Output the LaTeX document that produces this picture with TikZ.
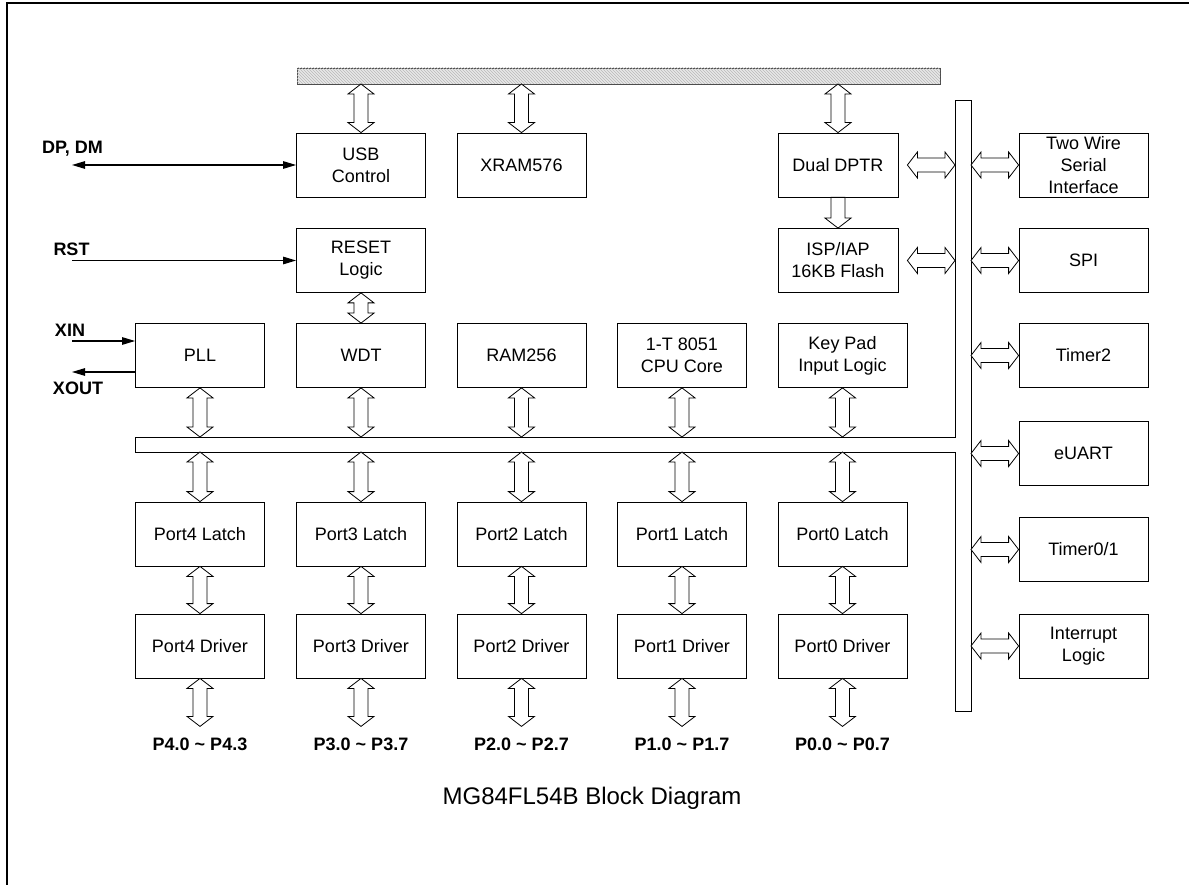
\documentclass[tikz,border=0pt]{standalone}
\usepackage{fontspec}
\setmainfont{Liberation Sans}
\usetikzlibrary{calc,arrows.meta,patterns}
\tikzset{
    >={Triangle[length=13pt,width=7.5pt]},
    block/.style={
        draw, line width=0.8pt, minimum width=129, minimum height=64,
        inner sep=0pt, align=center, font=\fontsize{18}{22}\selectfont
    },
    signal/.style={inner sep=0pt, font=\fontsize{18}{22}\selectfont\bfseries},
    wire/.style={line width=1.2pt},
    bus/.style={line width=0.8pt},
    vdbl/.style={
        bus, fill=white,
        to path={
            let \p1=(\tikztostart), \p2=(\tikztotarget) in
            (\x1,\y1) -- ++(13pt,-10pt) -- ++(-6pt,0pt) -- (\x1+7pt,\y2+10pt)
            -- ++(6pt,0pt) -- (\x1,\y2) -- ++(-13pt,10pt) -- ++(6pt,0pt)
            -- (\x1-7pt,\y1-10pt) -- ++(-6pt,0pt) -- cycle
        }
    },
    vone/.style={
        bus, fill=white,
        to path={
            let \p1=(\tikztostart), \p2=(\tikztotarget) in
            (\x1-7pt,\y1) -- (\x1+7pt,\y1) -- (\x1+7pt,\y2+10pt) -- ++(6pt,0pt)
            -- (\x1,\y2) -- ++(-13pt,10pt) -- ++(6pt,0pt) -- cycle
        }
    },
    hdbl/.style={
        bus, fill=white,
        to path={
            let \p1=(\tikztostart), \p2=(\tikztotarget) in
            (\x1,\y1) -- ++(10pt,13pt) -- ++(0pt,-6pt) -- (\x2-10pt,\y1+7pt)
            -- ++(0pt,6pt) -- (\x2,\y1) -- ++(-10pt,-13pt) -- ++(0pt,6pt)
            -- (\x1+10pt,\y1-7pt) -- ++(0pt,-6pt) -- cycle
        }
    }
}
\begin{document}
\begin{tikzpicture}[x=1pt, y=-1pt]
    \useasboundingbox (0,0) rectangle (1189,885);
    \draw[line width=2.5pt] (7,885) -- (7,3) -- (1189,3);

    % buses
    \node[draw, bus, draw=black!70, fill=gray!18, postaction={pattern=north west lines, pattern color=gray!55},
        minimum width=643, minimum height=16, inner sep=0pt, outer sep=0pt, anchor=north west]
        (tbar) at (297,68) {};
    \node[minimum width=16, minimum height=611, inner sep=0pt, outer sep=0pt, anchor=north west]
        (vbus) at (955,100) {};
    \node[minimum width=820, minimum height=15, inner sep=0pt, outer sep=0pt, anchor=north west]
        (hbus) at (135,437) {};
    \draw[bus] (hbus.north west) -- (hbus.north east) -- (vbus.north west) -- (vbus.north east)
        -- (vbus.south east) -- (vbus.south west) -- (hbus.south east) -- (hbus.south west) -- cycle;

    % blocks
    \node[block] (usb) at (361,165) {USB\\Control};
    \node[block] (xram) at (521.5,165) {XRAM576};
    \node[block, minimum width=120] (dptr) at (838,165) {Dual DPTR};
    \node[block] (reset) at (361,260.5) {RESET\\Logic};
    \node[block, minimum width=120] (isp) at (838,260.5) {ISP/IAP\\16KB Flash};
    \node[block] (pll) at (200,355.5) {PLL};
    \node[block] (wdt) at (361,355.5) {WDT};
    \node[block] (ram) at (521.5,355.5) {RAM256};
    \node[block] (cpu) at (682,355.5) {1-T 8051\\CPU Core};
    \node[block] (keypad) at (842.5,355.5) {Key Pad\\Input Logic};

    \node[block] (latch4) at (200,534) {Port4 Latch};
    \node[block] (latch3) at (361,534) {Port3 Latch};
    \node[block] (latch2) at (521.5,534) {Port2 Latch};
    \node[block] (latch1) at (682,534) {Port1 Latch};
    \node[block] (latch0) at (842.5,534) {Port0 Latch};
    \node[block] (drv4) at (200,646) {Port4 Driver};
    \node[block] (drv3) at (361,646) {Port3 Driver};
    \node[block] (drv2) at (521.5,646) {Port2 Driver};
    \node[block] (drv1) at (682,646) {Port1 Driver};
    \node[block] (drv0) at (842.5,646) {Port0 Driver};

    \node[signal] (pins4) at (200,744) {P4.0 \textasciitilde{} P4.3};
    \node[signal] (pins3) at (361,744) {P3.0 \textasciitilde{} P3.7};
    \node[signal] (pins2) at (521.5,744) {P2.0 \textasciitilde{} P2.7};
    \node[signal] (pins1) at (682,744) {P1.0 \textasciitilde{} P1.7};
    \node[signal] (pins0) at (842.5,744) {P0.0 \textasciitilde{} P0.7};

    \node[block] (twowire) at (1083.5,165) {Two Wire\\Serial\\Interface};
    \node[block] (spi) at (1083.5,260.5) {SPI};
    \node[block] (timer2) at (1083.5,355.5) {Timer2};
    \node[block] (euart) at (1083.5,453.5) {eUART};
    \node[block] (timer01) at (1083.5,549.5) {Timer0/1};
    \node[block] (intr) at (1083.5,646) {Interrupt\\Logic};

    % bus connections
    \draw[vdbl] (usb.north |- tbar.south) to (usb.north);
    \draw[vdbl] (xram.north |- tbar.south) to (xram.north);
    \draw[vdbl] (dptr.north |- tbar.south) to (dptr.north);
    \draw[vone] (dptr.south) to (isp.north);
    \draw[vdbl] (reset.south) to (wdt.north);
    \draw[vdbl] (pll.south) to (pll.south |- hbus.north);
    \draw[vdbl] (wdt.south) to (wdt.south |- hbus.north);
    \draw[vdbl] (ram.south) to (ram.south |- hbus.north);
    \draw[vdbl] (cpu.south) to (cpu.south |- hbus.north);
    \draw[vdbl] (keypad.south) to (keypad.south |- hbus.north);
    \draw[vdbl] (latch4.north |- hbus.south) to (latch4.north);
    \draw[vdbl] (latch3.north |- hbus.south) to (latch3.north);
    \draw[vdbl] (latch2.north |- hbus.south) to (latch2.north);
    \draw[vdbl] (latch1.north |- hbus.south) to (latch1.north);
    \draw[vdbl] (latch0.north |- hbus.south) to (latch0.north);
    \draw[vdbl] (latch4.south) to (drv4.north);
    \draw[vdbl] (latch3.south) to (drv3.north);
    \draw[vdbl] (latch2.south) to (drv2.north);
    \draw[vdbl] (latch1.south) to (drv1.north);
    \draw[vdbl] (latch0.south) to (drv0.north);
    \draw[vdbl] (drv4.south) to ([yshift=11]pins4.north);
    \draw[vdbl] (drv3.south) to ([yshift=11]pins3.north);
    \draw[vdbl] (drv2.south) to ([yshift=11]pins2.north);
    \draw[vdbl] (drv1.south) to ([yshift=11]pins1.north);
    \draw[vdbl] (drv0.south) to ([yshift=11]pins0.north);

    \draw[hdbl] ([xshift=9]dptr.east) to (dptr.east -| vbus.west);
    \draw[hdbl] ([xshift=9]isp.east) to (isp.east -| vbus.west);
    \draw[hdbl] (twowire.west -| vbus.east) to (twowire.west);
    \draw[hdbl] (spi.west -| vbus.east) to (spi.west);
    \draw[hdbl] (timer2.west -| vbus.east) to (timer2.west);
    \draw[hdbl] (euart.west -| vbus.east) to (euart.west);
    \draw[hdbl] (timer01.west -| vbus.east) to (timer01.west);
    \draw[hdbl] (intr.west -| vbus.east) to (intr.west);

    % external signals
    \node[signal] (dpdm) at (72.5,148.5) {DP, DM};
    \node[signal] (rst) at (71.5,249) {RST};
    \node[signal] (xin) at (70,330.5) {XIN};
    \node[signal] (xout) at (78,388) {XOUT};
    \coordinate (dpdmend) at (72,165);
    \coordinate (rstend) at (72,260.5);
    \coordinate (xinend) at (72,341);
    \coordinate (xoutend) at (72,372);
    \draw[wire, <->] (dpdmend) -- (usb.west);
    \draw[wire, ->] (rstend) -- (reset.west);
    \draw[wire, ->] (xinend) -- (xinend -| pll.west);
    \draw[wire, ->] (xoutend -| pll.west) -- (xoutend);

    \node[font=\fontsize{24}{28}\selectfont] (title) at (592,798) {MG84FL54B Block Diagram};
\end{tikzpicture}
\end{document}
